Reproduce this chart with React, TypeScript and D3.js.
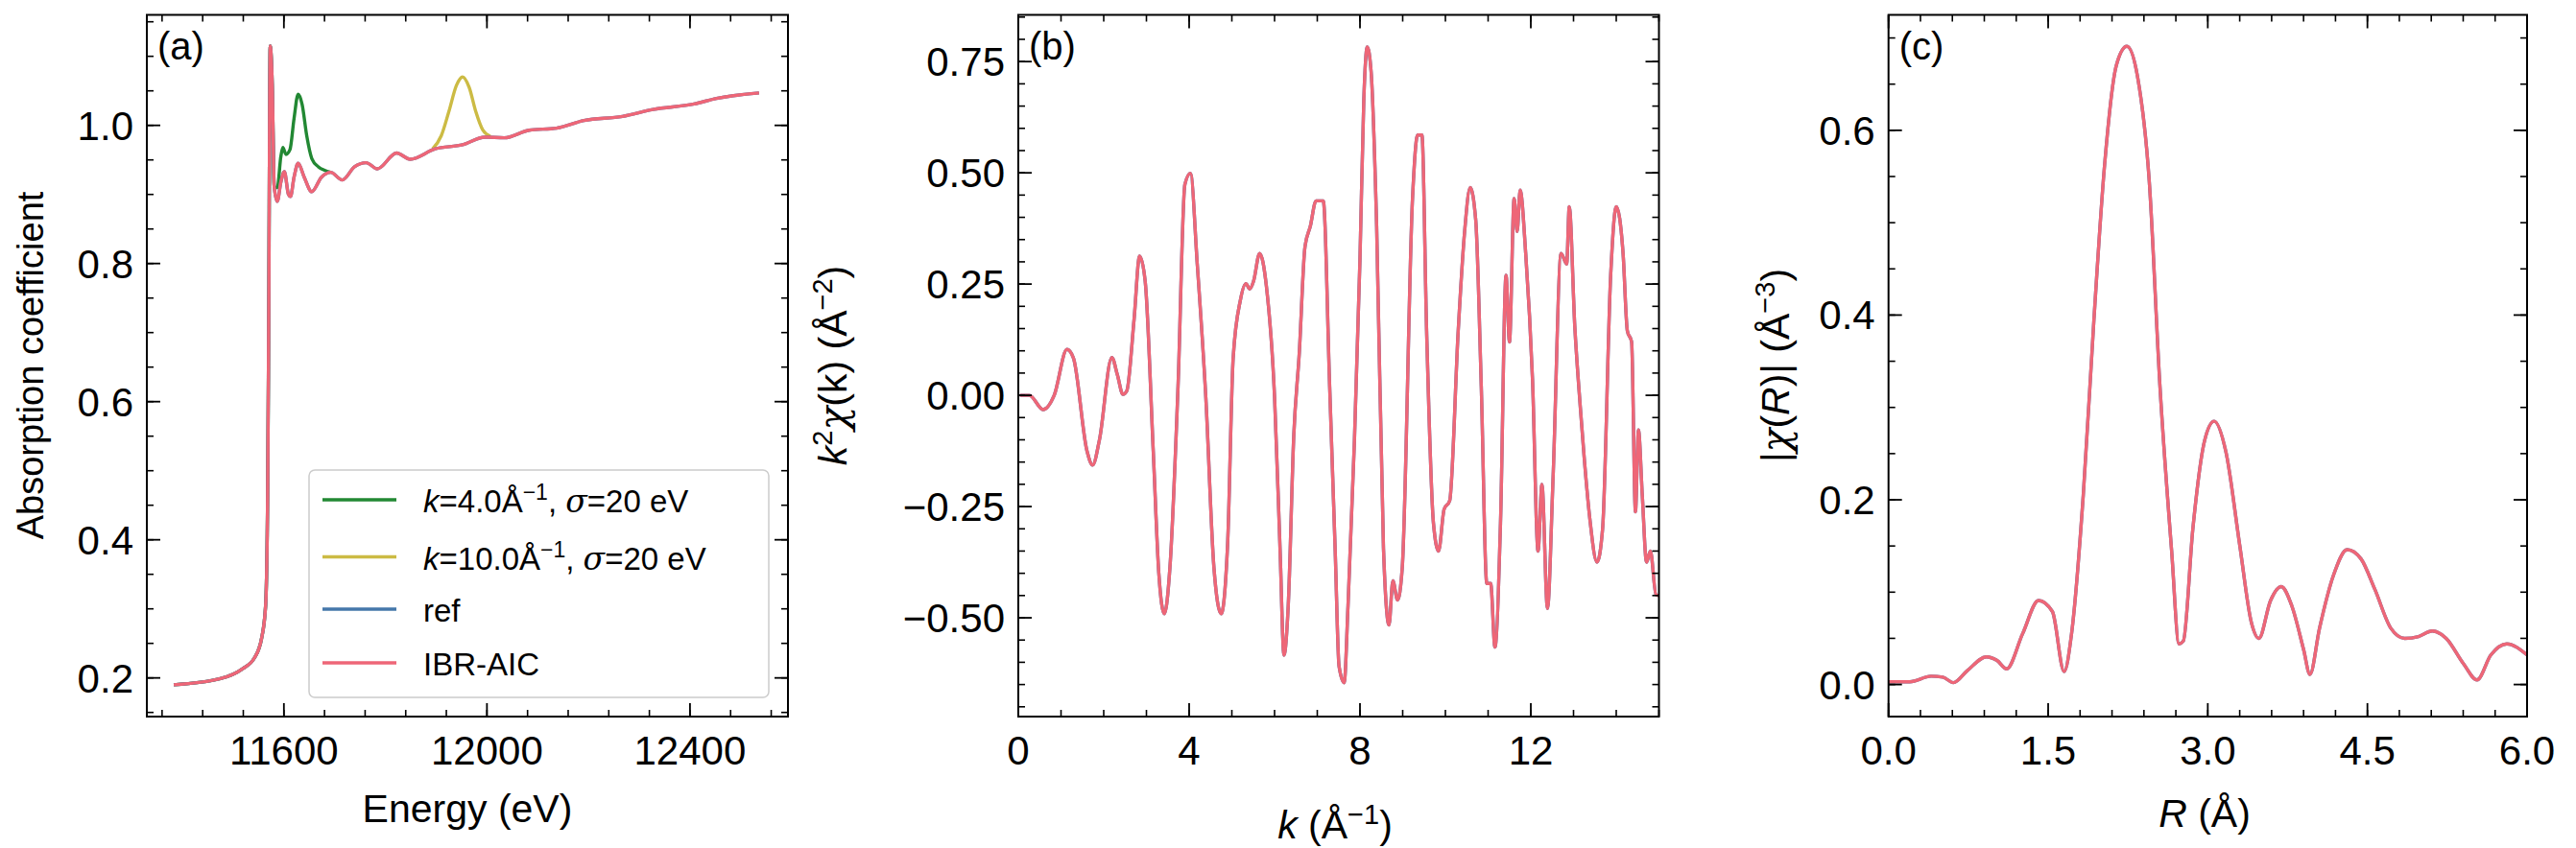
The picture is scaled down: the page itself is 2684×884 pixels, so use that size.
import * as d3 from 'd3';

// ---- data ----
const energyPink: [number, number][] = [
  [11383, 0.19], [11475, 0.199], [11518, 0.213], [11542, 0.229], [11556, 0.257], [11564, 0.305],
  [11568, 0.465], [11570, 0.704], [11573, 1.115], [11577, 1.06], [11581, 0.91], [11587, 0.89],
  [11594, 0.918], [11601, 0.933], [11609, 0.9], [11613, 0.897], [11620, 0.925], [11628, 0.945],
  [11640, 0.925], [11655, 0.904], [11674, 0.925], [11692, 0.932], [11715, 0.921], [11739, 0.94],
  [11762, 0.946], [11784, 0.937], [11822, 0.96], [11849, 0.951], [11898, 0.966], [11952, 0.972],
  [11996, 0.983], [12034, 0.982], [12083, 0.993], [12137, 0.996], [12191, 1.007], [12267, 1.013],
  [12327, 1.023], [12408, 1.031], [12452, 1.039], [12536, 1.047],
];
const energyGreen: [number, number][] = [
  [11383, 0.19], [11475, 0.199], [11518, 0.213], [11542, 0.229], [11556, 0.257], [11564, 0.305],
  [11568, 0.465], [11570, 0.704], [11573, 1.115], [11577, 1.06], [11581, 0.91], [11587, 0.91],
  [11594, 0.955], [11598, 0.968], [11604, 0.958], [11612, 0.965], [11620, 1.01], [11628, 1.045],
  [11636, 1.03], [11645, 0.985], [11655, 0.952], [11668, 0.94], [11680, 0.935], [11692, 0.932],
];
const energyYellow: [number, number][] = [
  [11893, 0.966], [11910, 0.985], [11925, 1.02], [11940, 1.058], [11952, 1.07], [11965, 1.055],
  [11978, 1.02], [11992, 0.993], [12007, 0.984],
];
const chiK: [number, number][] = [
  [0.04, 0], [0.26, 0], [0.58, -0.032], [0.84, 0], [1.14, 0.103], [1.29, 0.084], [1.61, -0.126],
  [1.74, -0.157], [1.9, -0.1], [2.19, 0.085], [2.32, 0.046], [2.45, 0.002], [2.54, 0.01], [2.71, 0.17],
  [2.84, 0.313], [2.97, 0.257], [3.16, -0.126], [3.29, -0.4], [3.42, -0.491], [3.55, -0.387],
  [3.74, 0.02], [3.9, 0.474], [4.03, 0.499], [4.19, 0.295], [4.39, -0.004], [4.58, -0.387],
  [4.75, -0.491], [4.9, -0.336], [5.03, 0.083], [5.2, 0.214], [5.33, 0.251], [5.42, 0.239],
  [5.51, 0.257], [5.65, 0.319], [5.81, 0.244], [6.0, -0.004], [6.13, -0.35], [6.22, -0.584],
  [6.32, -0.473], [6.45, -0.09], [6.58, 0.097], [6.71, 0.332], [6.84, 0.381], [6.97, 0.437],
  [7.14, 0.437], [7.29, 0.02], [7.42, -0.35], [7.51, -0.609], [7.63, -0.646], [7.72, -0.473],
  [7.87, -0.102], [8.0, 0.307], [8.09, 0.666], [8.17, 0.783], [8.26, 0.728], [8.39, 0.381],
  [8.55, -0.343], [8.68, -0.516], [8.77, -0.417], [8.88, -0.46], [8.99, -0.387], [9.23, 0.442],
  [9.35, 0.585], [9.45, 0.585], [9.56, 0.145], [9.72, -0.287], [9.84, -0.35], [9.97, -0.256],
  [10.1, -0.237], [10.3, 0.145], [10.45, 0.368], [10.58, 0.467], [10.71, 0.394], [10.84, 0.02],
  [10.97, -0.423], [11.06, -0.423], [11.16, -0.566], [11.29, -0.287], [11.42, 0.27], [11.5, 0.12],
  [11.61, 0.442], [11.68, 0.368], [11.75, 0.461], [11.88, 0.319], [12.04, 0.035], [12.17, -0.35],
  [12.26, -0.2], [12.39, -0.479], [12.52, -0.188], [12.71, 0.319], [12.84, 0.295], [12.9, 0.424],
  [13.03, 0.154], [13.16, -0.028], [13.25, -0.14], [13.38, -0.276], [13.55, -0.375], [13.68, -0.301],
  [13.87, 0.27], [14.0, 0.424], [14.16, 0.319], [14.26, 0.145], [14.36, 0.12], [14.45, -0.262],
  [14.52, -0.078], [14.61, -0.225], [14.71, -0.375], [14.8, -0.35], [14.93, -0.448], [15.0, -0.45],
];
const chiR: [number, number][] = [
  [0.0, 0.003], [0.2, 0.003], [0.4, 0.009], [0.51, 0.008], [0.61, 0.002], [0.74, 0.015], [0.92, 0.03],
  [1.02, 0.026], [1.11, 0.017], [1.26, 0.055], [1.41, 0.091], [1.54, 0.079], [1.65, 0.014],
  [1.72, 0.055], [1.83, 0.205], [1.93, 0.395], [2.03, 0.562], [2.14, 0.67], [2.24, 0.691],
  [2.34, 0.658], [2.45, 0.545], [2.55, 0.324], [2.66, 0.145], [2.73, 0.044], [2.77, 0.047],
  [2.86, 0.169], [2.97, 0.264], [3.06, 0.285], [3.17, 0.252], [3.3, 0.151], [3.41, 0.067],
  [3.48, 0.05], [3.59, 0.091], [3.69, 0.106], [3.79, 0.085], [3.9, 0.038], [3.96, 0.011],
  [4.05, 0.061], [4.18, 0.118], [4.31, 0.146], [4.44, 0.136], [4.57, 0.103], [4.72, 0.061],
  [4.85, 0.05], [4.98, 0.052], [5.11, 0.058], [5.24, 0.05], [5.4, 0.023], [5.53, 0.005],
  [5.66, 0.032], [5.81, 0.044], [6.0, 0.032],
];
const xTicksA = [11600, 12000, 12400];
const yTicksA = [0.2, 0.4, 0.6, 0.8, 1.0];
const xTicksB = [0, 4, 8, 12];
const yTicksB = [-0.5, -0.25, 0, 0.25, 0.5, 0.75];
const xTicksC = [0, 1.5, 3, 4.5, 6];
const yTicksC = [0, 0.2, 0.4, 0.6];

const PINK = '#EE6677', GREEN = '#228833', YELLOW = '#CCBB44', BLUE = '#4477AA';
const FONT = '"Liberation Sans", Arial, sans-serif';
const TOP = 15.5, BOTTOM = 747;
const TICK_FS = 42, LABEL_FS = 41;

const fmtMinus = (s: string) => s.replace('-', '\u2212');

interface PanelProps {
  left: number; right: number;
  xDomain: [number, number]; yDomain: [number, number];
  xTicks: number[]; yTicks: number[]; xMinor: number; yMinor: number;
  xFmt: (v: number) => string; yFmt: (v: number) => string;
  tag: string;
  children: (x: d3.ScaleLinear<number, number>, y: d3.ScaleLinear<number, number>) => any;
}

function Panel({ left, right, xDomain, yDomain, xTicks, yTicks, xMinor, yMinor, xFmt, yFmt, tag, children }: PanelProps) {
  const x = d3.scaleLinear().domain(xDomain).range([left, right]);
  const y = d3.scaleLinear().domain(yDomain).range([BOTTOM, TOP]);
  const minorX = d3.range(Math.ceil(xDomain[0] / xMinor - 1e-9), Math.floor(xDomain[1] / xMinor + 1e-9) + 1).map(i => i * xMinor);
  const minorY = d3.range(Math.ceil(yDomain[0] / yMinor - 1e-9), Math.floor(yDomain[1] / yMinor + 1e-9) + 1).map(i => i * yMinor);
  const clipId = 'clip' + tag.replace(/\W/g, '');
  return (
    <g>
      <defs>
        <clipPath id={clipId}><rect x={left} y={TOP} width={right - left} height={BOTTOM - TOP} /></clipPath>
      </defs>
      <g clipPath={`url(#${clipId})`}>{children(x, y)}</g>
      {minorX.map((v, i) => (
        <g key={'mx' + i} stroke="#000" strokeWidth={1.6}>
          <line x1={x(v)} x2={x(v)} y1={BOTTOM} y2={BOTTOM - 7} />
          <line x1={x(v)} x2={x(v)} y1={TOP} y2={TOP + 7} />
        </g>
      ))}
      {minorY.map((v, i) => (
        <g key={'my' + i} stroke="#000" strokeWidth={1.6}>
          <line x1={left} x2={left + 7} y1={y(v)} y2={y(v)} />
          <line x1={right} x2={right - 7} y1={y(v)} y2={y(v)} />
        </g>
      ))}
      {xTicks.map((v, i) => (
        <g key={'x' + i}>
          <line x1={x(v)} x2={x(v)} y1={BOTTOM} y2={BOTTOM - 14} stroke="#000" strokeWidth={1.8} />
          <line x1={x(v)} x2={x(v)} y1={TOP} y2={TOP + 14} stroke="#000" strokeWidth={1.8} />
          <text x={x(v)} y={797} textAnchor="middle" fontSize={TICK_FS} fontFamily={FONT}>{xFmt(v)}</text>
        </g>
      ))}
      {yTicks.map((v, i) => (
        <g key={'y' + i}>
          <line x1={left} x2={left + 14} y1={y(v)} y2={y(v)} stroke="#000" strokeWidth={1.8} />
          <line x1={right} x2={right - 14} y1={y(v)} y2={y(v)} stroke="#000" strokeWidth={1.8} />
          <text x={left - 14} y={y(v) + 15} textAnchor="end" fontSize={TICK_FS} fontFamily={FONT}>{yFmt(v)}</text>
        </g>
      ))}
      <rect x={left} y={TOP} width={right - left} height={BOTTOM - TOP} fill="none" stroke="#000" strokeWidth={2} />
      <text x={left + 11} y={62} fontSize={40} fontFamily={FONT}>{tag}</text>
    </g>
  );
}

export default function App() {
  const lineGen = (x: d3.ScaleLinear<number, number>, y: d3.ScaleLinear<number, number>, curve: d3.CurveFactory) =>
    d3.line<[number, number]>().x(d => x(d[0])).y(d => y(d[1])).curve(curve);

  const legend = [
    { color: GREEN, kind: 'k', kv: '4.0' },
    { color: YELLOW, kind: 'k', kv: '10.0' },
    { color: BLUE, kind: 'text', label: 'ref' },
    { color: PINK, kind: 'text', label: 'IBR-AIC' },
  ];
  const legendRows = [522, 581.5, 636, 692];

  return (
    <svg width={2684} height={884} style={{ position: 'absolute', left: 0, top: 0, background: '#fff' }}>
      <rect width={2684} height={884} fill="#fff" />
      {/* (a) */}
      <Panel left={153} right={821} xDomain={[11330, 12593]} yDomain={[0.144, 1.16]}
        xTicks={xTicksA} yTicks={yTicksA} xMinor={80} yMinor={0.05}
        xFmt={v => String(v)} yFmt={v => v.toFixed(1)} tag="(a)">
        {(x, y) => {
          const l = lineGen(x, y, d3.curveMonotoneX);
          return (
            <g fill="none" strokeWidth={3.4} strokeLinejoin="round">
              <path d={l(energyGreen) || ''} stroke={GREEN} />
              <path d={l(energyYellow) || ''} stroke={YELLOW} />
              <path d={l(energyPink) || ''} stroke={BLUE} />
              <path d={l(energyPink) || ''} stroke={PINK} />
            </g>
          );
        }}
      </Panel>
      <g fontFamily={FONT}>
        <rect x={322} y={490} width={479} height={237} rx={6} fill="#fff" fillOpacity={0.8} stroke="#ccc" strokeWidth={1.5} />
        {legend.map((d, i) => (
          <g key={i}>
            <line x1={336} x2={413} y1={legendRows[i] - 1} y2={legendRows[i] - 1} stroke={d.color} strokeWidth={3.4} />
            {d.kind === 'k' ? (
              <text x={441} y={legendRows[i] + 12} fontSize={33}>
                <tspan fontStyle="italic">k</tspan>={d.kv}Å<tspan dy={-13} fontSize={23}>−1</tspan>
                <tspan dy={13}>, </tspan><tspan fontStyle="italic" fontFamily="'DejaVu Serif', serif">σ</tspan>=20 eV
              </text>
            ) : (
              <text x={441} y={legendRows[i] + 12} fontSize={33}>{d.label}</text>
            )}
          </g>
        ))}
      </g>
      <text transform="translate(45,381) rotate(-90)" textAnchor="middle" fontSize={38} fontFamily={FONT}>Absorption coefficient</text>
      <text x={487} y={857} textAnchor="middle" fontSize={LABEL_FS} fontFamily={FONT}>Energy (eV)</text>

      {/* (b) */}
      <Panel left={1061} right={1728.5} xDomain={[0, 15]} yDomain={[-0.722, 0.855]}
        xTicks={xTicksB} yTicks={yTicksB} xMinor={1} yMinor={0.05}
        xFmt={v => String(v)} yFmt={v => fmtMinus(v.toFixed(2))} tag="(b)">
        {(x, y) => (
          <g fill="none" strokeWidth={3.4} strokeLinejoin="round">
            <path d={lineGen(x, y, d3.curveMonotoneX)(chiK) || ''} stroke={BLUE} />
            <path d={lineGen(x, y, d3.curveMonotoneX)(chiK) || ''} stroke={PINK} />
          </g>
        )}
      </Panel>
      <text transform="translate(882,381) rotate(-90)" textAnchor="middle" fontSize={LABEL_FS} fontFamily={FONT}>
        <tspan fontStyle="italic">k</tspan><tspan dy={-15} fontSize={29}>2</tspan>
        <tspan dy={15} fontFamily="'DejaVu Serif', serif" fontStyle="italic">χ</tspan>(k) (Å<tspan dy={-15} fontSize={29}>−2</tspan><tspan dy={15}>)</tspan>
      </text>
      <text x={1391} y={874} textAnchor="middle" fontSize={LABEL_FS} fontFamily={FONT}>
        <tspan fontStyle="italic">k</tspan> (Å<tspan dy={-15} fontSize={29}>−1</tspan><tspan dy={15}>)</tspan>
      </text>

      {/* (c) */}
      <Panel left={1967.7} right={2633} xDomain={[0, 6]} yDomain={[-0.0347, 0.725]}
        xTicks={xTicksC} yTicks={yTicksC} xMinor={0.3} yMinor={0.05}
        xFmt={v => v.toFixed(1)} yFmt={v => v.toFixed(1)} tag="(c)">
        {(x, y) => (
          <g fill="none" strokeWidth={3.4} strokeLinejoin="round">
            <path d={lineGen(x, y, d3.curveMonotoneX)(chiR) || ''} stroke={BLUE} />
            <path d={lineGen(x, y, d3.curveMonotoneX)(chiR) || ''} stroke={PINK} />
          </g>
        )}
      </Panel>
      <text transform="translate(1864,381) rotate(-90)" textAnchor="middle" fontSize={LABEL_FS} fontFamily={FONT}>
        |<tspan fontFamily="'DejaVu Serif', serif" fontStyle="italic">χ</tspan>(<tspan fontStyle="italic">R</tspan>)| (Å<tspan dy={-15} fontSize={29}>−3</tspan><tspan dy={15}>)</tspan>
      </text>
      <text x={2297} y={862} textAnchor="middle" fontSize={LABEL_FS} fontFamily={FONT}>
        <tspan fontStyle="italic">R</tspan> (Å)
      </text>
    </svg>
  );
}
